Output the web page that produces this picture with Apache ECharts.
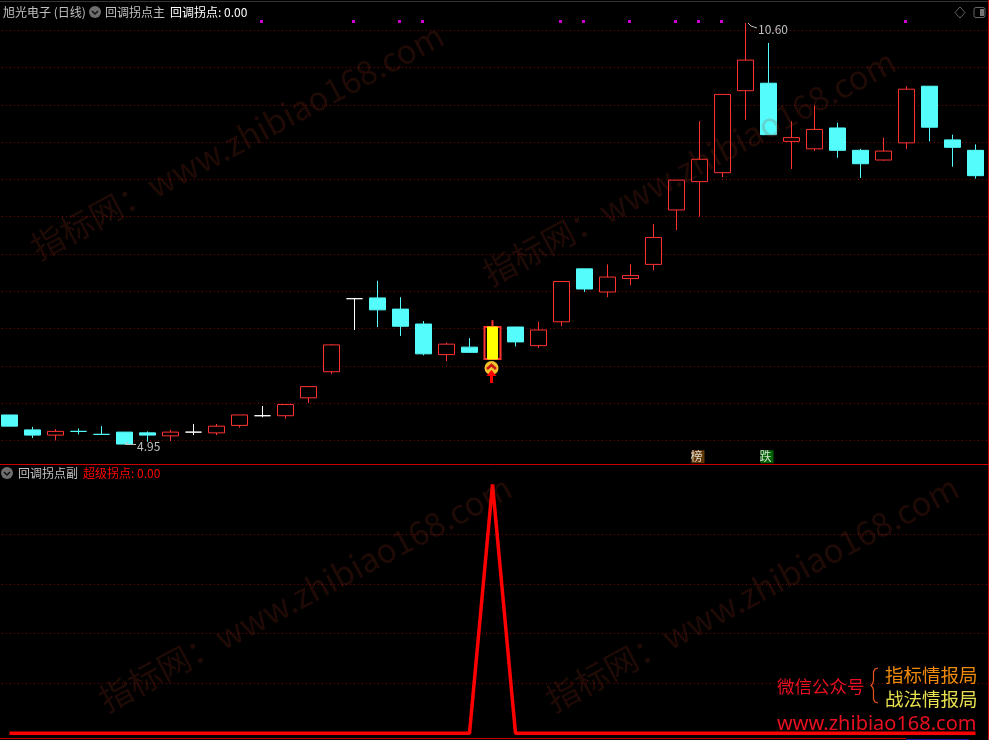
<!DOCTYPE html>
<html>
<head>
<meta charset="utf-8">
<style>
  html, body { margin: 0; padding: 0; background: #000; }
  #chart { width: 989px; height: 740px; }
</style>
<script src="https://cdn.jsdelivr.net/npm/echarts@6/dist/echarts.min.js"></script>
</head>
<body>
<div id="chart"></div>
<script>
// 每根K线: [开, 收, 低, 高]
var candles = [
  [5.34, 5.19, 5.19, 5.34], [5.14, 5.07, 5.03, 5.18], [5.07, 5.12, 5.00, 5.15], [5.12, 5.12, 5.08, 5.16],
  [5.08, 5.08, 5.08, 5.19], [5.11, 4.95, 4.95, 5.11], [5.10, 5.07, 4.98, 5.12], [5.06, 5.11, 4.99, 5.14],
  [5.11, 5.11, 5.07, 5.22], [5.10, 5.19, 5.07, 5.22], [5.20, 5.34, 5.17, 5.34], [5.33, 5.33, 5.31, 5.46],
  [5.33, 5.48, 5.29, 5.48], [5.57, 5.72, 5.50, 5.72], [5.92, 6.28, 5.89, 6.29], [6.90, 6.90, 6.48, 6.90],
  [6.91, 6.75, 6.52, 7.14], [6.76, 6.53, 6.40, 6.92], [6.56, 6.16, 6.14, 6.60], [6.15, 6.29, 6.06, 6.31],
  [6.25, 6.18, 6.18, 6.37], [6.09, 6.52, 6.08, 6.61], [6.52, 6.32, 6.26, 6.52], [6.27, 6.48, 6.24, 6.59],
  [6.59, 7.13, 6.53, 7.13], [7.30, 7.03, 6.99, 7.30], [6.99, 7.19, 6.92, 7.36], [7.17, 7.21, 7.08, 7.36],
  [7.36, 7.72, 7.28, 7.90], [8.09, 8.49, 7.82, 8.49], [8.47, 8.77, 8.00, 9.28], [8.59, 9.64, 8.53, 9.64],
  [9.69, 10.10, 9.30, 10.60], [9.79, 9.10, 9.10, 10.33], [9.01, 9.06, 8.64, 9.28], [8.91, 9.17, 8.88, 9.49],
  [9.19, 8.89, 8.79, 9.26], [8.89, 8.71, 8.52, 8.91], [8.76, 8.88, 8.75, 9.06], [8.99, 9.71, 8.91, 9.75],
  [9.75, 9.20, 9.01, 9.75], [9.03, 8.93, 8.67, 9.10], [8.89, 8.55, 8.51, 8.97]
];
var categories = candles.map(function (c, i) { return i + 1; });
var whiteDoji = [8, 11, 15];
var cyanDoji = [3, 4];
var pointIndex = 21;          // 回调拐点那根K线
var signalIndex = [11, 15, 17, 18, 24, 25, 27, 29, 30, 31, 39];
var signalValue = 10.62;
var tagIndex = [30, 33];
var tagText = ['榜', '跌'];
var tagColor = ['#7a4508', '#047a04'];
var tagValue = 4.78;
var superPoint = [0, 0, 0, 0, 0, 0, 0, 0, 0, 0, 0, 0, 0, 0, 0, 0, 0, 0, 0, 0, 0, 1, 0, 0, 0, 0, 0, 0, 0, 0, 0, 0, 0, 0, 0, 0, 0, 0, 0, 0, 0, 0, 0];

var RED = '#ff3232';
var CYAN = '#54fcfc';
var FONT = '"Noto Sans CJK SC", sans-serif';

function candleItem(c, i) {
  var color = null;
  if (i === pointIndex) return { value: c, itemStyle: { borderWidth: 2 } };
  if (whiteDoji.indexOf(i) >= 0) color = '#ffffff';
  if (cyanDoji.indexOf(i) >= 0) color = CYAN;
  if (color) return { value: c, itemStyle: { color: color, color0: color, borderColor: color, borderColor0: color } };
  return c;
}

var chart = echarts.init(document.getElementById('chart'));

function txt(x, y, text, color, size, extra) {
  var style = { x: x, y: y, text: text, fill: color, font: size + 'px ' + FONT, textVerticalAlign: 'middle' };
  if (extra) for (var k in extra) style[k] = extra[k];
  return { type: 'text', silent: true, z: 50, style: style };
}
function hline(y, x1, x2, color) {
  return { type: 'line', silent: true, z: 40, shape: { x1: x1, y1: y, x2: x2, y2: y }, style: { stroke: color, lineWidth: 1 } };
}
function vline(x, y1, y2, color) {
  return { type: 'line', silent: true, z: 40, shape: { x1: x, y1: y1, x2: x, y2: y2 }, style: { stroke: color, lineWidth: 1 } };
}
function chevronBtn(cx, cy) {
  return [
    { type: 'circle', silent: true, z: 50, shape: { cx: cx, cy: cy, r: 6 }, style: { fill: '#6e6e6e' } },
    { type: 'polyline', silent: true, z: 51, shape: { points: [[cx - 3, cy - 1], [cx, cy + 2], [cx + 3, cy - 1]] }, style: { stroke: '#111', lineWidth: 1.5, fill: null } }
  ];
}
function watermark(x, y) {
  return {
    type: 'text', silent: true, z: 60, x: x, y: y, rotation: 0.49,
    style: { x: 0, y: 0, text: '指标网：www.zhibiao168.com', fill: 'rgba(160,50,30,0.2)', font: '33px "Noto Sans CJK SC", sans-serif', textVerticalAlign: 'middle' }
  };
}

var graphics = [
  hline(1.5, 0, 989, '#333'),
  hline(464.5, 0, 989, '#c80000'),
  hline(738.5, 0, 906, '#c80000'),
  hline(739.5, 906, 969, '#1a1a9a'),
  vline(988.5, 0, 740, '#c80000'),
  txt(3, 12, '旭光电子 (日线)', '#c0c0c0', 12),
  txt(105, 12, '回调拐点主', '#c0c0c0', 12),
  txt(170, 12, '回调拐点: 0.00', '#ffffff', 12),
  txt(18, 473, '回调拐点副', '#c0c0c0', 12),
  txt(83, 473, '超级拐点: 0.00', '#ff0000', 12),
  txt(758, 29, '10.60', '#c0c0c0', 12),
  txt(137, 446, '4.95', '#c0c0c0', 12),
  { type: 'polyline', silent: true, z: 50, shape: { points: [[757, 28], [751, 26], [748, 23]] }, style: { stroke: '#c0c0c0', lineWidth: 1, fill: null } },
  { type: 'polyline', silent: true, z: 50, shape: { points: [[136, 444.5], [125, 444.5], [128, 442]] }, style: { stroke: '#c0c0c0', lineWidth: 1, fill: null } },
  { type: 'polygon', silent: true, z: 50, shape: { points: [[960, 7], [965, 12.5], [960, 18], [955, 12.5]] }, style: { stroke: '#666', lineWidth: 1, fill: null } },
  { type: 'rect', silent: true, z: 50, shape: { x: 974, y: 7.5, width: 11, height: 10, r: 2 }, style: { stroke: '#666', lineWidth: 1, fill: null } },
  { type: 'rect', silent: true, z: 50, shape: { x: 980, y: 9, width: 4, height: 7 }, style: { fill: '#777' } },
  // 拐点标记
  { type: 'circle', silent: true, z: 50, shape: { cx: 491.5, cy: 368, r: 7 }, style: { fill: '#f2c12e' } },
  { type: 'polyline', silent: true, z: 51, shape: { points: [[487, 369], [491.5, 365], [496, 369]] }, style: { stroke: '#c81414', lineWidth: 2.5, fill: null } },
  { type: 'polygon', silent: true, z: 52, shape: { points: [[491.5, 370], [496.5, 376], [493, 376], [493, 383], [490, 383], [490, 376], [486.5, 376]] }, style: { fill: '#ff0000' } },
  // 右下角
  txt(777, 686, '微信公众号', '#e81020', 17.5),
  { type: 'polyline', silent: true, z: 50, shape: { points: [[878, 668], [875, 669], [873.5, 672], [873.5, 681], [872.5, 684], [871, 685.5], [872.5, 687], [873.5, 690], [873.5, 699], [875, 702], [878, 703]] }, style: { stroke: '#e8551a', lineWidth: 1.2, fill: null } },
  txt(885, 675, '指标情报局', '#f08a0a', 18.5),
  txt(885, 699, '战法情报局', '#e8e050', 18.5),
  txt(777, 724, 'www.zhibiao168.com', '#e81020', 20, { font: '20px "Noto Sans", sans-serif' }),
  watermark(33, 250),
  watermark(485, 276),
  watermark(101, 702),
  watermark(548, 702)
].concat(chevronBtn(95, 12), chevronBtn(7, 473));

chart.setOption({
  animation: false,
  backgroundColor: '#000',
  // 左边-2: 第一根K线中心落在9.5，K线间距23，虚线铺满整个宽度
  grid: [
    { left: -2, width: 989, top: 30.3, height: 447.3, outerBoundsMode: 'none' },
    { left: -2, width: 989, top: 484.3, height: 249, outerBoundsMode: 'none' }
  ],
  xAxis: [
    { type: 'category', gridIndex: 0, data: categories, show: false },
    { type: 'category', gridIndex: 1, data: categories, show: false }
  ],
  yAxis: [
    {
      type: 'value', gridIndex: 0, min: 4.5, max: 10.5, interval: 0.5,
      axisLine: { show: false }, axisTick: { show: false }, axisLabel: { show: false },
      splitLine: { show: true, showMinLine: false, lineStyle: { color: '#800000', type: [1, 3], width: 1 } }
    },
    {
      type: 'value', gridIndex: 1, min: 0, max: 1, interval: 0.2,
      axisLine: { show: false }, axisTick: { show: false }, axisLabel: { show: false },
      splitLine: { show: true, showMinLine: false, showMaxLine: false, lineStyle: { color: '#800000', type: [1, 3], width: 1 } }
    }
  ],
  series: [
    {
      name: 'K线', type: 'candlestick', xAxisIndex: 0, yAxisIndex: 0, barWidth: 16, clip: false,
      data: candles.map(candleItem),
      itemStyle: { color: '#000', color0: CYAN, borderColor: RED, borderColor0: CYAN, borderWidth: 1 }
    },
    {
      name: '拐点K线', type: 'candlestick', xAxisIndex: 0, yAxisIndex: 0, barWidth: 10, clip: false,
      data: candles.map(function (c, i) {
        return i === pointIndex ? [c[0], c[1], c[0], c[1]] : ['-', '-', '-', '-'];
      }),
      itemStyle: { color: '#ffff00', color0: '#ffff00', borderColor: '#ffff00', borderColor0: '#ffff00', borderWidth: 1 }
    },
    {
      name: '信号', type: 'scatter', xAxisIndex: 0, yAxisIndex: 0, clip: false,
      symbol: 'rect', symbolSize: 3, symbolOffset: [-1, 0.14],
      itemStyle: { color: '#ff00ff' },
      data: signalIndex.map(function (i) { return [i, signalValue]; })
    },
    {
      name: '标记', type: 'scatter', xAxisIndex: 0, yAxisIndex: 0, clip: false,
      symbol: 'rect', symbolSize: 13, symbolOffset: [-1.5, 0],
      data: tagIndex.map(function (i, k) {
        return {
          value: [i, tagValue],
          itemStyle: { color: tagColor[k] },
          label: { show: true, position: 'inside', offset: [-1.5, 0], formatter: tagText[k], color: '#fff', fontSize: 12, fontFamily: FONT }
        };
      })
    },
    {
      name: '超级拐点', type: 'line', xAxisIndex: 1, yAxisIndex: 1, data: superPoint,
      showSymbol: false, clip: false, lineStyle: { color: '#ff0000', width: 3.5 }
    }
  ],
  graphic: graphics
});
</script>
</body>
</html>
